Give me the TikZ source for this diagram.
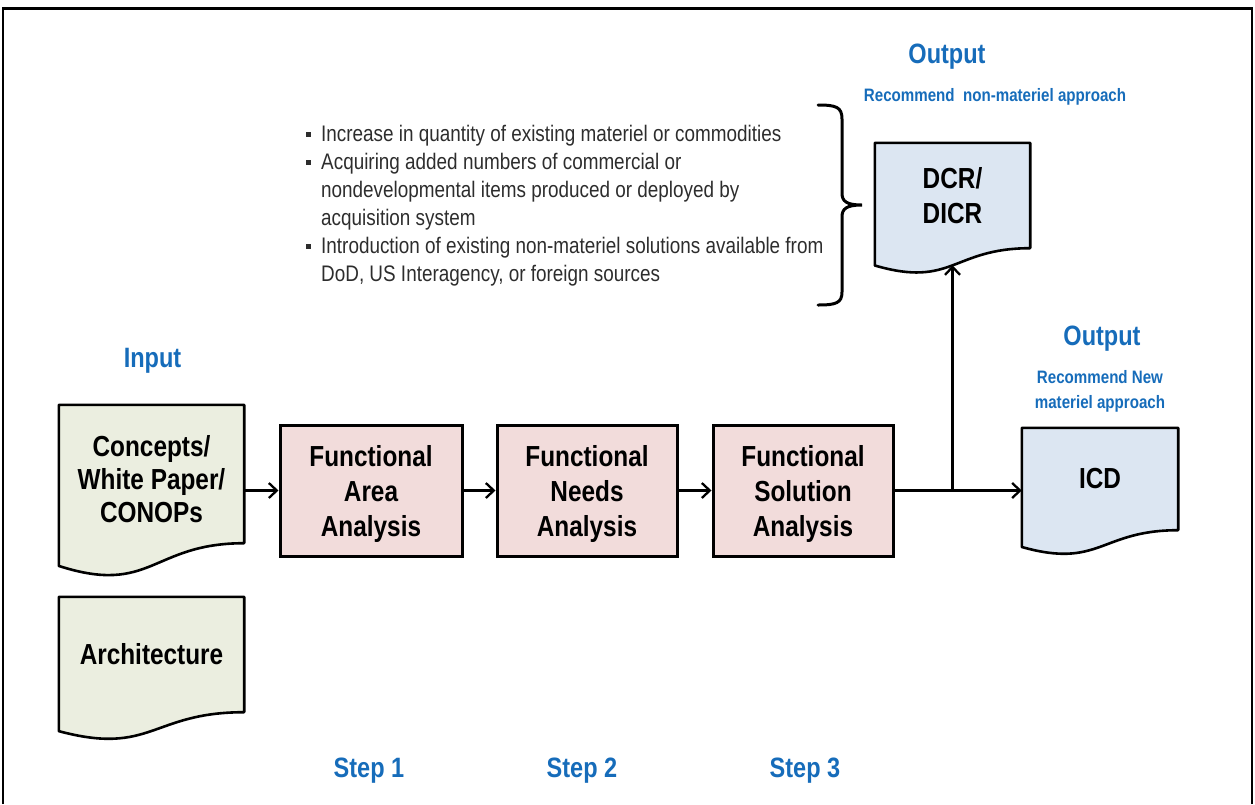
\documentclass[tikz,border=0pt]{standalone}
\usepackage{fontspec}
\setmainfont{Liberation Sans}[FakeStretch=0.84]
\usetikzlibrary{arrows.meta,calc,backgrounds}

\definecolor{hdrblue}{RGB}{22,108,186}
\definecolor{docgreen}{RGB}{235,238,224}
\definecolor{stepfill}{RGB}{242,220,219}
\definecolor{outfill}{RGB}{220,230,242}
\definecolor{notetext}{RGB}{45,45,45}

% document outline with a wavy lower edge below the text area of a node
% #1 node name, #2 fill colour, #3 height of the text area
\newcommand{\docoutline}[3]{%
  \draw[docline, fill=#2] (#1.north west) -- (#1.north east) -- (#1.south east)
    .. controls (#1.south) and ($(#1.south)+(0,{0.381*#3})$)
    .. ($(#1.south west)+(0,{0.1646*#3})$) -- cycle;}

\newcommand{\sqb}{\makebox[15pt][l]{\rule[4.5pt]{5pt}{5pt}}}
\newcommand{\ind}{\hspace*{15pt}}

\begin{document}
\begin{tikzpicture}[x=1pt,y=-1pt,
  docline/.style={line width=2.6pt, line join=round},
  boxtext/.style={font=\fontsize{29}{35}\selectfont\bfseries, align=center, inner sep=0pt},
  docnode/.style={boxtext, draw=none},
  stepbox/.style={boxtext, draw, line width=3pt, fill=stepfill,
    minimum width=180pt, minimum height=131pt},
  hdr/.style={font=\fontsize{28}{28}\selectfont\bfseries, text=hdrblue, inner sep=0pt, anchor=base},
  sub/.style={font=\fontsize{18}{25}\selectfont\bfseries, text=hdrblue, inner sep=0pt, anchor=base, align=center},
  conn/.style={line width=2.3pt, -{Straight Barb[length=8pt,width=15pt,line width=2.3pt]}},
  frame/.style={line width=2pt}
]
\useasboundingbox (0,0) rectangle (1255,804);

% outer frame (open at the bottom)
\draw[frame] (3,804) -- (3,8);
\draw[frame] (1252,804) -- (1252,8);
\draw[line width=3pt] (2,8) -- (1253,8);

% inputs
\node[docnode, minimum width=185pt, minimum height=138pt,
  font=\fontsize{29}{33}\selectfont\bfseries] (concepts) at (151.5,474)
  {\rule{0pt}{31pt}Concepts/\\White Paper/\\CONOPs};
\node[docnode, minimum width=185pt, minimum height=115pt] (arch) at (151.5,654.5) {Architecture};

% analysis steps
\node[stepbox, minimum width=182pt] (faa) at (371,490.5) {\rule{0pt}{27pt}Functional\\Area\\Analysis};
\node[stepbox] (fna) at (587,490.5) {\rule{0pt}{27pt}Functional\\Needs\\Analysis};
\node[stepbox] (fsa) at (803,490.5) {\rule{0pt}{27pt}Functional\\Solution\\Analysis};

% outputs
\node[docnode, minimum width=155pt, minimum height=105pt] (dcr) at (952.5,195.5) {DCR/\\DICR};
\node[docnode, minimum width=156pt, minimum height=102pt] (icd) at (1100,479) {ICD};

\begin{scope}[on background layer]
  \docoutline{concepts}{docgreen}{138}
  \docoutline{arch}{docgreen}{115}
  \docoutline{dcr}{outfill}{105}
  \docoutline{icd}{outfill}{102}
\end{scope}

% headings (a multi-line node sits on the baseline of its last line)
\node[hdr] (inlbl) at (152.5,367) {Input};
\node[hdr] (out1) at (947,63) {Output};
\node[sub] (out1sub) at (995,101) {Recommend~ non-materiel approach};
\node[hdr] (out2) at (1102,345) {Output};
\node[sub] (out2sub) at (1100,408) {Recommend New\\materiel approach};
\node[hdr] (s1) at (369,777) {Step 1};
\node[hdr] (s2) at (582,777) {Step 2};
\node[hdr] (s3) at (805,777) {Step 3};

% non-materiel options
\node[anchor=base west, align=left, inner sep=0pt, text=notetext,
  font=\fontsize{22.5}{28}\selectfont] (notes) at (306,281) {%
  \sqb Increase in quantity of existing materiel or commodities\\
  \sqb Acquiring added numbers of commercial or\\
  \ind nondevelopmental items produced or deployed by\\
  \ind acquisition system\\
  \sqb Introduction of existing non-materiel solutions available from\\
  \ind DoD, US Interagency, or foreign sources};

% brace grouping the options
\draw[line width=3pt, line cap=round]
  (818,105) .. controls (836,105) and (842,107) .. (842,119) -- (842,193)
  .. controls (842,201) and (846,205) .. (862,205)
  .. controls (846,205) and (842,209) .. (842,217) -- (842,292)
  .. controls (842,303) and (836,305) .. (818,305);

% connectors
\draw[conn] (concepts.east |- faa.west) -- (faa.west);
\draw[conn] (faa.east) -- (fna.west);
\draw[conn] (fna.east) -- (fsa.west);
\draw[conn] (fsa.east) -- (fsa.east -| icd.west);
\coordinate (split) at (dcr.south |- fsa.east);
\draw[conn] (split) -- ($(dcr.south)+(0,17)$);
\end{tikzpicture}
\end{document}
